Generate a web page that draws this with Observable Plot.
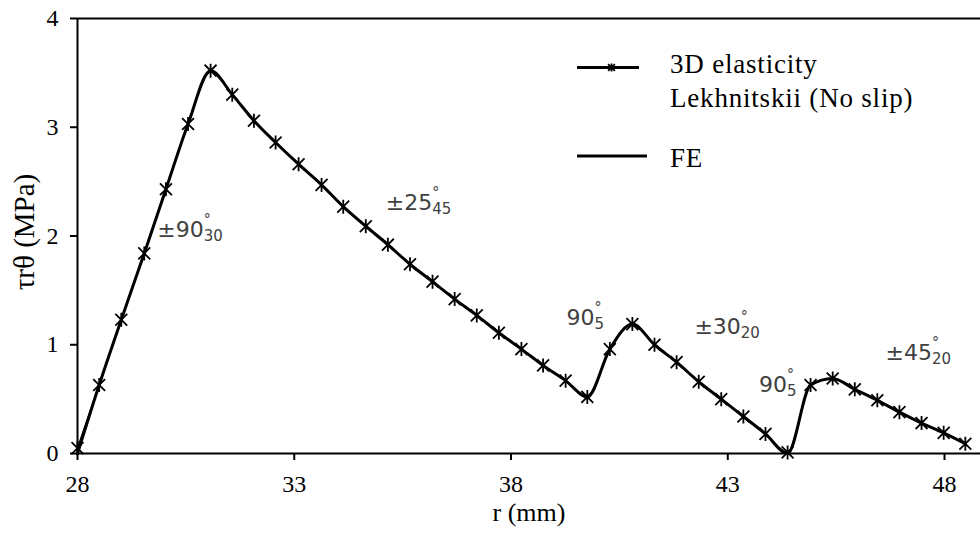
<!DOCTYPE html>
<html><head><meta charset="utf-8">
<script src="https://cdn.jsdelivr.net/npm/d3@7"></script>
<script src="https://cdn.jsdelivr.net/npm/@observablehq/plot@0.6"></script>
<style>body{margin:0;background:#fff;}</style>
</head><body><div id="chart"></div>
<script>
// ---- data ----
const radius = [28.00, 28.50, 29.01, 29.54, 30.04, 30.55, 31.07, 31.57, 32.07, 32.57, 33.10, 33.63, 34.13, 34.65, 35.16, 35.67, 36.19, 36.70, 37.21, 37.72, 38.24, 38.74, 39.26, 39.76, 40.28, 40.80, 41.31, 41.82, 42.33, 42.85, 43.36, 43.87, 44.38, 44.91, 45.42, 45.93, 46.45, 46.96, 47.47, 47.98, 48.48];
const tauElasticity = [0.05, 0.63, 1.23, 1.84, 2.43, 3.03, 3.52, 3.30, 3.06, 2.86, 2.66, 2.47, 2.27, 2.09, 1.92, 1.74, 1.58, 1.42, 1.27, 1.11, 0.96, 0.81, 0.67, 0.52, 0.96, 1.19, 1.00, 0.84, 0.66, 0.50, 0.34, 0.18, 0.01, 0.63, 0.69, 0.59, 0.49, 0.38, 0.28, 0.19, 0.09];
const tauFE = [0.00, 0.63, 1.23, 1.84, 2.43, 3.03, 3.52, 3.30, 3.06, 2.86, 2.66, 2.47, 2.27, 2.09, 1.92, 1.74, 1.58, 1.42, 1.27, 1.11, 0.96, 0.81, 0.67, 0.52, 0.96, 1.19, 1.00, 0.84, 0.66, 0.50, 0.34, 0.18, 0.00, 0.63, 0.69, 0.59, 0.49, 0.38, 0.28, 0.19, 0.09];
const xTicks = [28, 33, 38, 43, 48];
const yTicks = [0, 1, 2, 3, 4];
const xDomain = [28, 48.83];
const yDomain = [0, 4];
const xLabel = "r (mm)";
const yLabel = "τrθ (MPa)";
const legendLabels = ["3D elasticity", "Lekhnitskii (No slip)", "FE"];
// ply-angle annotations: angle, number of layers, position (r, tau)
const annoAngle = ["±90", "±25", "90", "±30", "90", "±45"];
const annoLayers = ["30", "45", "5", "20", "5", "20"];
const annoR = [29.84, 35.11, 39.28, 42.23, 43.72, 46.64];
const annoTau = [1.99, 2.24, 1.18, 1.10, 0.57, 0.86];

const data = radius.map((r, i) => ({r, el: tauElasticity[i], fe: tauFE[i]}));
const annos = annoAngle.map((a, i) => ({label: a + "|" + annoLayers[i], r: annoR[i], t: annoTau[i]}));

const asterisk = {
  draw(ctx, size) {
    const s = Math.sqrt(size / Math.PI), d = s * 0.85;
    ctx.moveTo(-d, -d); ctx.lineTo(d, d);
    ctx.moveTo(d, -d); ctx.lineTo(-d, d);
    ctx.moveTo(0, -s); ctx.lineTo(0, s);
  }
};

const serif = "Liberation Serif, Times New Roman, serif";

const chart = Plot.plot({
  width: 980, height: 540,
  marginLeft: 77, marginRight: 0, marginTop: 18, marginBottom: 87,
  style: {fontFamily: serif, fontSize: "24px", color: "#000", background: "#fff"},
  x: {domain: xDomain},
  y: {domain: yDomain},
  marks: [
    Plot.axisX({ticks: xTicks, tickSize: 7, tickPadding: 14, strokeWidth: 2, label: null, fontSize: 24, fontFamily: serif, tickFormat: d => String(d)}),
    Plot.axisY({ticks: yTicks, tickSize: 7, tickPadding: 12, strokeWidth: 2, label: null, fontSize: 24, fontFamily: serif, tickFormat: d => String(d)}),
    Plot.ruleY([0, 4], {stroke: "#000", strokeWidth: 2}),
    Plot.ruleX([28], {stroke: "#000", strokeWidth: 2}),
    Plot.line(data, {x: "r", y: "el", curve: "monotone-x", stroke: "#000", strokeWidth: 1.5}),
    Plot.line(data, {x: "r", y: "fe", curve: "monotone-x", stroke: "#000", strokeWidth: 3}),
    Plot.dot(data, {x: "r", y: "el", symbol: asterisk, r: 7, stroke: "#000", fill: "none", strokeWidth: 1.8}),
    Plot.text(annos, {x: "r", y: "t", text: "label", textAnchor: "start", lineAnchor: "bottom", fontFamily: "DejaVu Sans", fontSize: 22, fill: "#404040"}),
    Plot.text([xLabel], {frameAnchor: "bottom", textAnchor: "middle", dy: 67, fontSize: 26, fontFamily: serif}),
    Plot.text([yLabel], {frameAnchor: "left", textAnchor: "middle", rotate: -90, dx: -53, dy: -4, fontSize: 29, fontFamily: serif})
  ]
});
document.getElementById("chart").append(chart);

// stacked superscript degree + subscript layer count
d3.select(chart).selectAll("text").each(function () {
  const t = this.textContent;
  if (!t.includes("|")) return;
  const [base, sub] = t.split("|");
  const sel = d3.select(this);
  sel.text("");
  sel.append("tspan").text(base);
  const deg = sel.append("tspan").attr("font-size", 14).attr("dy", -13).text("°");
  const w = deg.node().getComputedTextLength();
  sel.append("tspan").attr("font-size", 15).attr("dx", -w).attr("dy", 17).text(sub);
});

// legend
const svg = d3.select(chart);
const lg = svg.append("g").attr("font-family", serif).attr("font-size", 27).attr("letter-spacing", 0.8)
  .attr("text-anchor", "start").attr("fill", "#000");
lg.append("line").attr("x1", 577).attr("x2", 639).attr("y1", 67.5).attr("y2", 67.5).attr("stroke", "#000").attr("stroke-width", 3);
const p = d3.path(); asterisk.draw(p, Math.PI * 16);
lg.append("path").attr("d", p.toString()).attr("transform", "translate(611.5,67.5)").attr("stroke", "#000").attr("stroke-width", 1.8).attr("fill", "none");
lg.append("text").attr("x", 670).attr("y", 73).text(legendLabels[0]);
lg.append("text").attr("x", 670).attr("y", 107).text(legendLabels[1]);
lg.append("line").attr("x1", 577).attr("x2", 647).attr("y1", 156).attr("y2", 156).attr("stroke", "#000").attr("stroke-width", 3);
lg.append("text").attr("x", 670).attr("y", 167).text(legendLabels[2]);
</script>
</body></html>
